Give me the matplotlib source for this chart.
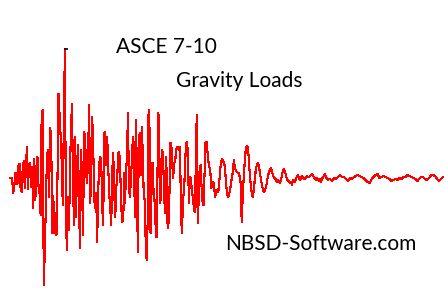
#!/usr/bin/env python3
import matplotlib
matplotlib.use('Agg')  # Use non-interactive backend
import matplotlib.pyplot as plt
import numpy as np

# Ground motion record, in segments (amplitude, baseline = 0)
# each segment: (t_start, t_end) and its samples
seg1_t = (10, 67)
seg1 = [1, 1, 1, -14, -8, 6, 6, -5, 13, 15, -8, -13, 10, 18, -9, 7, 32, -10, 15, 16,
        -8, 12, -29, 20, -21, 7, 22, -7, -14, -36, 65, 69, -106, -71, -24, 22, 29, -18,
        51, 44, -54, -17, -54, -34, -56, 2, 85, 64, 42, 16, -26, 57, 130, -44, -71]
seg2_t = (68, 124.3)
seg2 = [-18, -51, 9, 52, 75, -8, -46, 42, -38, 12, 34, -31, -69, 29, -1, -56, 47, 42, 6,
        -4, 24, 74, -24, -4, 62, 39, -19, -29, -14, -63, -14, 15, 22, 21, -28, -46, 46, 47,
        14, 42, 12, -14, -29, -46, 7, 26, -14, -38, -8, 2, 26, 27, 6, -28, -43, -38, 6]
seg3_t = (125, 183)
seg3 = [-24, 6, 22, 66, -8, -18, -1, 19, 42, 34, -38, 59, 17, -73, 36, 46, 4, 52, 29, -14,
        -21, -61, -81, -44, 69, 49, -54, -11, 16, -11, -21, -44, -58, 2, 66, 6, -24, 19, 29,
        12, -21, -34, 22, -43, -49, -28, 36, 36, 16, 1, 16, 17, 29, 32, 32, 29, 32, -38, -54, -18]
seg4_t = (184, 241.7)
seg4 = [-14, 12, 36, 37, 26, -24, 2, 1, -11, -18, -28, -33, 12, 64, -44, -21, 11, 14, -9,
        -23, -26, 6, 36, 37, 27, 17, 12, 6, -9, -6, -3, -11, -18, -11, -13, -13, -4, 9, 17,
        20, 17, 17, 9, -4, -14, -18, -16, -11, -6, 2, 7, 19, 11, 9, 7, 6, 6, 2, -4, -43]
seg5_t = (243, 329)
seg5 = [-11, 6, 22, 31, 33, 32, 16, 2, -8, -16, -18, -9, 2, 11, 14, 16, 12, 6, -1, -6, -11,
        -13, -11, -8, -3, 4, 6, 10, 11, 7, 4, 1, 1, -1, -3, -1, -3, -4, -1, 4, 9, 10, 7, 4,
        -1, -1, -3, -4, -3, -6, -1, -1, -3, 1, 2, 4, 1, -1, 1, 3, 2, 0, 0, 2, 3, 2, 2, 3, 4,
        5, 3, 2, 0, -1, 1, 0, -2, 0, -3, 0, 2, 3, 5, 2, 0, -1, 0]
seg6_t = (330, 443)
seg6 = [0, -2, 1, 0, 2, 4, 2, 2, 0, -2, 1, 0, 2, 3, 4, 3, 2, 1, -1, -3, -4, 0, 2, 4, 5, 1,
        2, 3, 2, 1, 0, -2, -1, 0, -1, 1, 0, 2, 2, 4, 3, 2, 1, 0, -2, 0, 2, 2, 0, -1, 1, 4,
        4, 3, 0, -2, 0, 2]

title_lines = ['ASCE 7-10', 'Gravity Loads']
site_label = 'NBSD-Software.com'


def build_record():
    """Join the segments into one time/amplitude record"""
    segs = [(seg1_t, seg1), (seg2_t, seg2), (seg3_t, seg3),
            (seg4_t, seg4), (seg5_t, seg5), (seg6_t, seg6)]
    t, a = [], []
    for (t0, t1), vals in segs:
        t.append(np.linspace(t0, t1, len(vals)))
        a.append(np.array(vals, dtype=float))
    return np.concatenate(t), np.concatenate(a)


def create_plot():
    fig = plt.figure(figsize=(4.44, 3.08), dpi=100)
    ax = fig.add_axes([0, 0, 1, 1])
    ax.set_axis_off()

    t, a = build_record()
    ax.plot(t, a, color='#ff0000', linewidth=0.8, antialiased=False)
    # small dark tick on top of the peak
    imax = np.argmax(a)
    ax.plot(t[imax] + 0.8, a[imax], marker='_', color='black', markersize=2.5, mew=1.2)

    ax.set_xlim(0, 444)
    ax.set_ylim(-129, 179)

    font = dict(family=['Lato', 'DejaVu Sans'], fontsize=15, color='black', va='baseline')
    fig.text(116 / 444, 1 - 53 / 308, title_lines[0], **font)
    fig.text(176 / 444, 1 - 87 / 308, title_lines[1], **font)
    fig.text(225 / 444, 1 - 250 / 308, site_label, fontstretch='normal', **font)

    fig.savefig('out.png', dpi=100)
    plt.close(fig)


if __name__ == "__main__":
    create_plot()
